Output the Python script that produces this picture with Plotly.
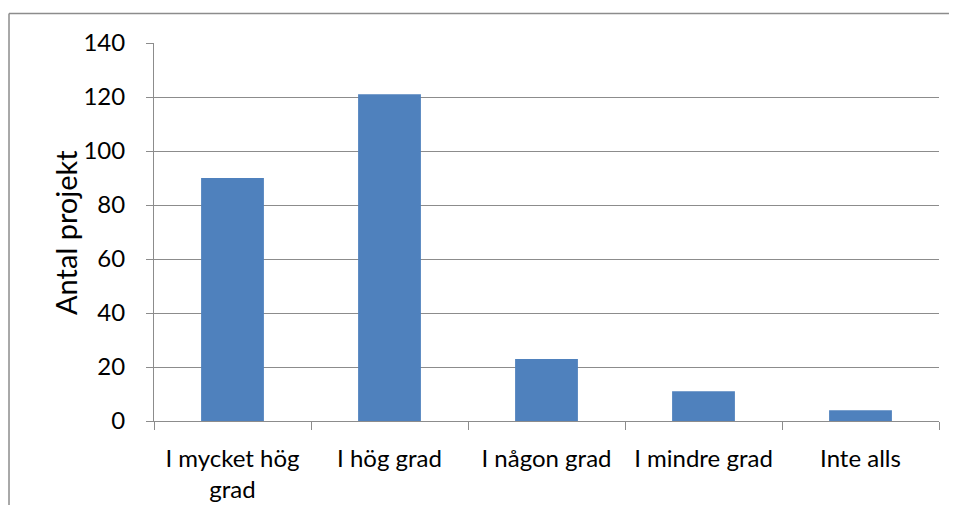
import plotly.graph_objects as go

categories = ["I mycket hög<br>grad", "I hög grad", "I någon grad", "I mindre grad", "Inte alls"]
values = [90, 121, 23, 11, 4]
y_ticks = [0, 20, 40, 60, 80, 100, 120, 140]
y_title = "Antal projekt"

grid = "#8c8c8c"
font = "Lato, Calibri, Carlito, sans-serif"

fig = go.Figure(go.Bar(x=categories, y=values, marker=dict(color="#4F81BD", line=dict(width=0)), width=0.4))

border = dict(color="#8c8c8c", width=1.5)
fig.update_layout(
    width=941, height=497,
    margin=dict(l=146, r=10, t=35, b=84),
    paper_bgcolor="white", plot_bgcolor="white",
    font=dict(family=font, size=24, color="black"),
    showlegend=False,
    shapes=[
        dict(type="line", xref="paper", yref="paper", x0=-0.1847, x1=-0.1847, y0=-0.3, y1=1.078, line=border),
        dict(type="line", xref="paper", yref="paper", x0=-0.1847, x1=1.0127, y0=1.078, y1=1.078, line=border),
    ],
    annotations=[dict(text=y_title, textangle=-90, xref="paper", yref="paper", x=-0.1134, y=0.5,
                      xanchor="center", yanchor="middle", showarrow=False, font=dict(size=29))],
)
fig.update_yaxes(range=[0, 140], tickvals=y_ticks, showgrid=True, gridcolor=grid, gridwidth=1,
                 showline=True, linecolor=grid, linewidth=1, ticks="outside", ticklen=7, tickcolor=grid,
                 ticklabelstandoff=16, zeroline=False, automargin=False)
fig.update_xaxes(showline=True, linecolor=grid, linewidth=1, ticks="outside", ticklen=8, tickcolor=grid,
                 tickson="boundaries", ticklabelstandoff=16, automargin=False, tickangle=0)

fig.write_html("out.html")
